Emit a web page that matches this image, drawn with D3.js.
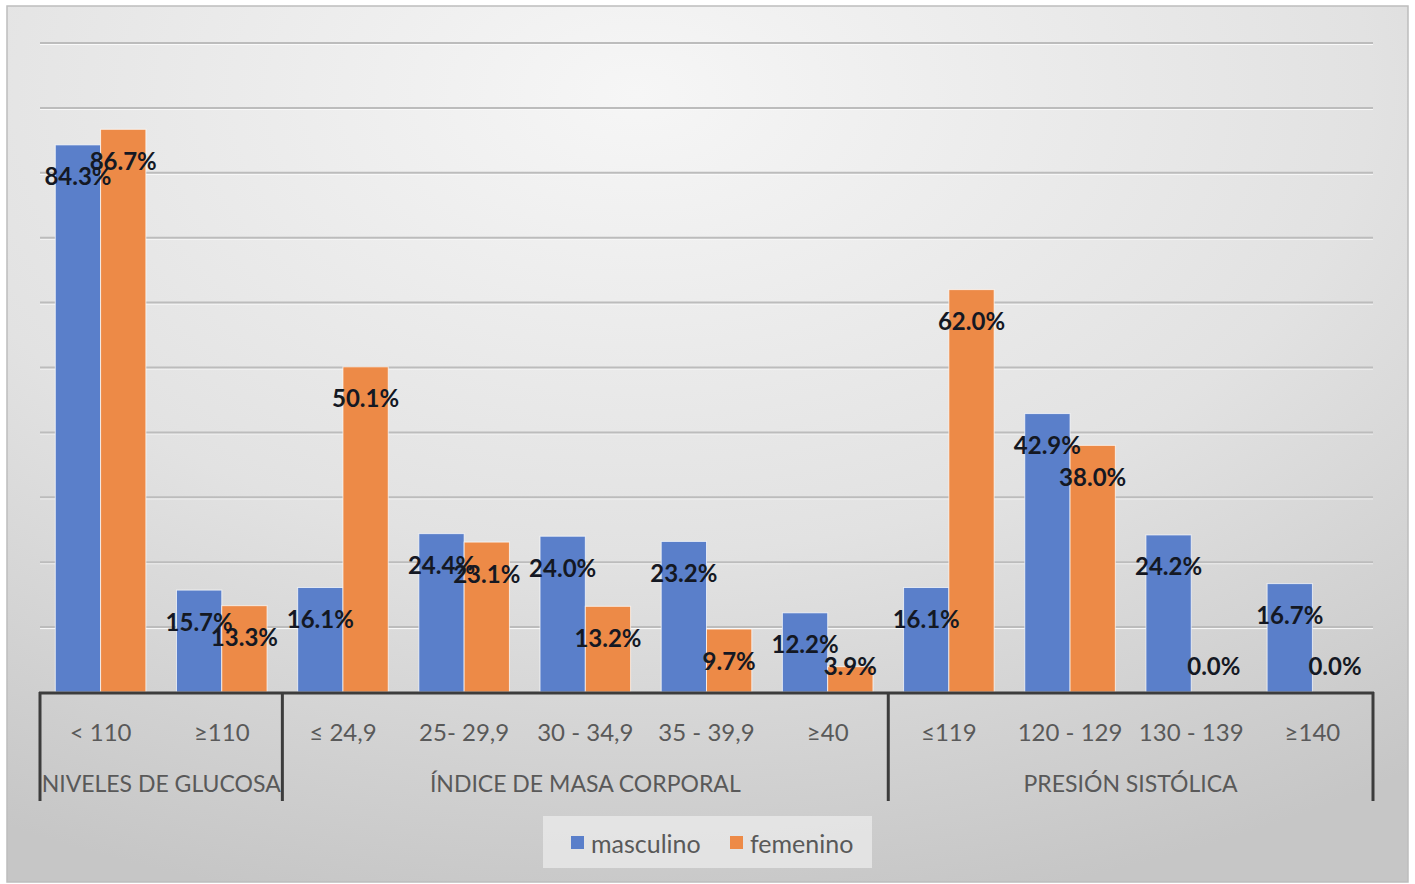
<!DOCTYPE html>
<html>
<head>
<meta charset="utf-8">
<script src="https://cdn.jsdelivr.net/npm/d3@7"></script>
<style>
  html, body { margin: 0; padding: 0; background: #ffffff; }
  svg { display: block; }
</style>
</head>
<body>
<svg id="chart" width="1415" height="884"></svg>
<script>
// Categories along the x axis, grouped into three blocks
const categories = ["< 110", "≥110", "≤ 24,9", "25- 29,9", "30 - 34,9", "35 - 39,9", "≥40", "≤119", "120 - 129", "130 - 139", "≥140"];
const groups = [
  { name: "NIVELES DE GLUCOSA", start: 0, end: 2 },
  { name: "ÍNDICE DE MASA CORPORAL", start: 2, end: 7 },
  { name: "PRESIÓN SISTÓLICA", start: 7, end: 11 }
];
const seriesNames = ["masculino", "femenino"];
const masculino = [84.3, 15.7, 16.1, 24.4, 24.0, 23.2, 12.2, 16.1, 42.9, 24.2, 16.7];
const femenino  = [86.7, 13.3, 50.1, 23.1, 13.2, 9.7, 3.9, 62.0, 38.0, 0.0, 0.0];
const gridTicks = [10, 20, 30, 40, 50, 60, 70, 80, 90, 100];

const colors = { masculino: "#5a7fca", femenino: "#ed8a47" };
const font = "Lato, 'Open Sans', 'DejaVu Sans', sans-serif";

const svg = d3.select("#chart");

// Chart area background with a soft radial shading
const defs = svg.append("defs");
const grad = defs.append("radialGradient")
  .attr("id", "bg").attr("cx", "45%").attr("cy", "10%").attr("r", "95%")
  .attr("gradientUnits", "objectBoundingBox");
grad.append("stop").attr("offset", "0%").attr("stop-color", "#f6f6f6");
grad.append("stop").attr("offset", "55%").attr("stop-color", "#e2e2e2");
grad.append("stop").attr("offset", "100%").attr("stop-color", "#c6c6c6");

svg.append("rect")
  .attr("x", 7).attr("y", 6).attr("width", 1401).attr("height", 876)
  .attr("fill", "url(#bg)")
  .attr("stroke", "#bdbdbd").attr("stroke-width", 1.5);

const plot = { left: 40, right: 1373, top: 43, bottom: 692 };

const x = d3.scaleBand().domain(d3.range(categories.length))
  .range([plot.left, plot.right]).paddingInner(0).paddingOuter(0);
const xs = d3.scaleBand().domain(seriesNames)
  .range([0, x.bandwidth()]).paddingInner(0).paddingOuter(0.338);
const y = d3.scaleLinear().domain([0, 100]).range([plot.bottom, plot.top]);

// Horizontal gridlines
const grid = svg.append("g");
grid.selectAll("line.g").data(gridTicks).join("line")
  .attr("x1", plot.left).attr("x2", plot.right)
  .attr("y1", d => y(d) + 1.5).attr("y2", d => y(d) + 1.5)
  .attr("stroke", "#fafafa").attr("stroke-width", 1);
grid.selectAll("line.h").data(gridTicks).join("line")
  .attr("x1", plot.left).attr("x2", plot.right)
  .attr("y1", d => y(d)).attr("y2", d => y(d))
  .attr("stroke", "#bcbcbc").attr("stroke-width", 2);

// Bars
const rows = categories.map((c, i) => ({ i, masculino: masculino[i], femenino: femenino[i] }));
const barG = svg.append("g");
seriesNames.forEach(s => {
  barG.selectAll("rect." + s).data(rows).join("rect")
    .attr("class", s)
    .attr("x", d => x(d.i) + xs(s))
    .attr("y", d => y(d[s]))
    .attr("width", xs.bandwidth())
    .attr("height", d => y(0) - y(d[s]))
    .attr("fill", colors[s])
    .attr("stroke", "rgba(255,255,255,0.7)")
    .attr("stroke-width", 1);
});

// Value labels, placed just inside the top of each bar
const labelG = svg.append("g");
seriesNames.forEach(s => {
  labelG.selectAll("text." + s).data(rows).join("text")
    .attr("class", s)
    .attr("x", d => x(d.i) + xs(s) + xs.bandwidth() / 2)
    .attr("y", d => Math.min(y(d[s]) + 31, y(0) - 27))
    .attr("text-anchor", "middle")
    .attr("dominant-baseline", "central")
    .attr("font-family", font).attr("font-weight", "bold")
    .attr("font-size", 24).attr("fill", "#141823")
    .text(d => d[s].toFixed(1) + "%");
});

// Category axis: baseline, tick labels, group labels and separators
const axisG = svg.append("g");
axisG.append("line")
  .attr("x1", plot.left - 1).attr("x2", plot.right + 1)
  .attr("y1", y(0) + 1).attr("y2", y(0) + 1)
  .attr("stroke", "#3c3c3c").attr("stroke-width", 3);

axisG.selectAll("text.cat").data(categories).join("text")
  .attr("class", "cat")
  .attr("x", (d, i) => x(i) + x.bandwidth() / 2)
  .attr("y", 731)
  .attr("text-anchor", "middle").attr("dominant-baseline", "central")
  .attr("font-family", font).attr("font-size", 24).attr("fill", "#595959")
  .text(d => d);

const bounds = [0, ...groups.map(g => g.end)];
axisG.selectAll("line.sep").data(bounds).join("line")
  .attr("class", "sep")
  .attr("x1", d => d === categories.length ? plot.right : x(d))
  .attr("x2", d => d === categories.length ? plot.right : x(d))
  .attr("y1", y(0)).attr("y2", 801)
  .attr("stroke", "#3c3c3c").attr("stroke-width", 3);

axisG.selectAll("text.grp").data(groups).join("text")
  .attr("class", "grp")
  .attr("x", g => {
    const a = x(g.start), b = g.end === categories.length ? plot.right : x(g.end);
    return (a + b) / 2;
  })
  .attr("y", 783)
  .attr("text-anchor", "middle").attr("dominant-baseline", "central")
  .attr("font-family", font).attr("font-size", 23).attr("fill", "#595959")
  .text(g => g.name);

// Legend
const legend = svg.append("g");
legend.append("rect")
  .attr("x", 543).attr("y", 816).attr("width", 329).attr("height", 52)
  .attr("fill", "#ebebeb").attr("fill-opacity", 0.75);
const legendItems = [
  { name: "masculino", x: 571 },
  { name: "femenino", x: 730 }
];
legendItems.forEach(it => {
  legend.append("rect")
    .attr("x", it.x).attr("y", 836).attr("width", 13).attr("height", 13)
    .attr("fill", colors[it.name]);
  legend.append("text")
    .attr("x", it.x + 20).attr("y", 843)
    .attr("dominant-baseline", "central")
    .attr("font-family", font).attr("font-size", 25).attr("fill", "#595959")
    .text(it.name);
});
</script>
</body>
</html>
